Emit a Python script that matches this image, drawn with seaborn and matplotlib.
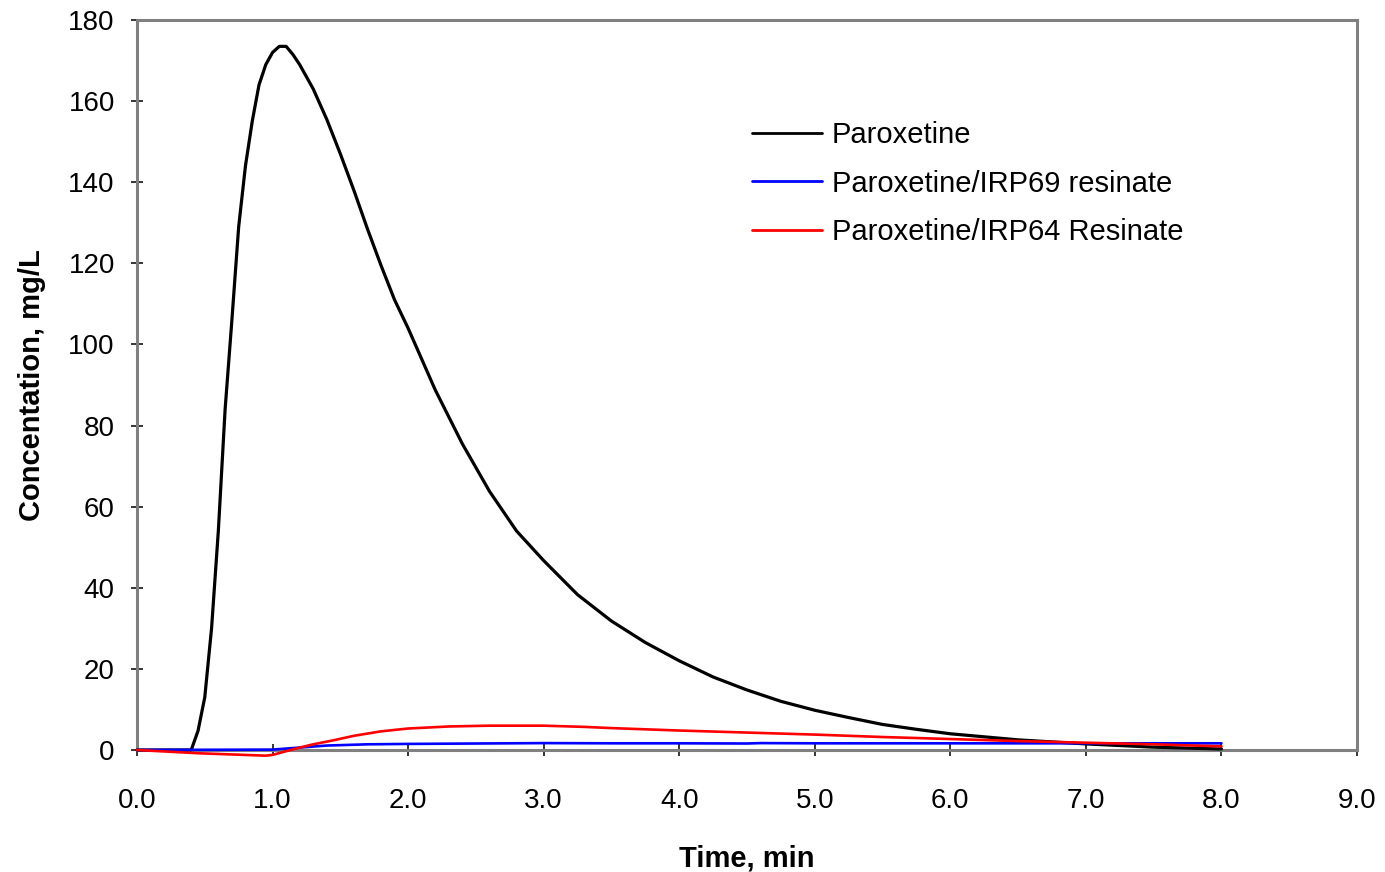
import matplotlib
matplotlib.use("Agg")
import matplotlib.pyplot as plt
import seaborn as sns
import pandas as pd

# --- data ---
t_parox = [0.0, 0.4, 0.45, 0.5, 0.55, 0.6, 0.65, 0.7, 0.75, 0.8, 0.85, 0.9, 0.95,
           1.0, 1.05, 1.1, 1.15, 1.2, 1.3, 1.4, 1.5, 1.6, 1.7, 1.8, 1.9, 2.0, 2.2,
           2.4, 2.6, 2.8, 3.0, 3.25, 3.5, 3.75, 4.0, 4.25, 4.5, 4.75, 5.0, 5.25,
           5.5, 5.75, 6.0, 6.5, 7.0, 7.5, 8.0]
c_parox = [0.0, 0.0, 4.7, 13.0, 30.0, 54.0, 84.0, 106.0, 129.0, 144.0, 155.0, 164.0, 169.0,
           172.0, 173.5, 173.5, 171.5, 169.0, 163.0, 155.5, 147.0, 138.0, 128.5, 119.5, 111.0,
           104.0, 88.8, 75.5, 63.8, 54.0, 46.7, 38.3, 31.8, 26.5, 22.0, 18.0, 14.8, 12.0,
           9.8, 8.0, 6.3, 5.1, 4.0, 2.5, 1.5, 0.7, 0.25]

t_irp69 = [0.0, 1.0, 1.2, 1.4, 1.7, 2.0, 2.5, 3.0, 3.5, 4.0, 4.5, 4.6, 5.0, 6.0, 7.0, 8.0]
c_irp69 = [0.0, 0.1, 0.6, 1.1, 1.4, 1.5, 1.6, 1.7, 1.65, 1.65, 1.6, 1.7, 1.65, 1.65, 1.65, 1.65]

t_irp64 = [0.0, 0.45, 0.95, 1.0, 1.1, 1.2, 1.3, 1.45, 1.6, 1.8, 2.0, 2.3, 2.6, 3.0,
           3.3, 3.5, 4.0, 4.5, 5.0, 5.5, 6.0, 6.5, 7.0, 7.5, 8.0]
c_irp64 = [0.0, -0.8, -1.4, -1.2, -0.3, 0.6, 1.4, 2.4, 3.5, 4.6, 5.3, 5.8, 6.0, 6.0,
           5.7, 5.4, 4.8, 4.3, 3.8, 3.2, 2.7, 2.2, 1.8, 1.4, 0.9]

series_names = ["Paroxetine", "Paroxetine/IRP69 resinate", "Paroxetine/IRP64 Resinate"]
series_colors = ["#000000", "#0000FF", "#FF0000"]

x_ticks = [0, 1, 2, 3, 4, 5, 6, 7, 8, 9]
y_ticks = [0, 20, 40, 60, 80, 100, 120, 140, 160, 180]

sns.set_style("white")
plt.rcParams["font.family"] = ["Liberation Sans", "DejaVu Sans"]
plt.rcParams["text.color"] = "black"

fig = plt.figure(figsize=(13.85, 8.72), dpi=100)
ax = fig.add_axes([137 / 1385, 1 - 750 / 872, 1220 / 1385, 730 / 872])

data = [(t_parox, c_parox), (t_irp69, c_irp69), (t_irp64, c_irp64)]
widths = [2.3, 1.9, 1.9]
for (t, c), name, col, lw in zip(data, series_names, series_colors, widths):
    df = pd.DataFrame({"t": t, "c": c})
    sns.lineplot(data=df, x="t", y="c", ax=ax, color=col, linewidth=lw, label=name,
                 estimator=None, sort=False, clip_on=False, zorder=3)

ax.set_xlim(0, 9)
ax.set_ylim(0, 180)
ax.set_xticks(x_ticks)
ax.set_xticklabels([f"{v:.1f}" for v in x_ticks])
ax.set_yticks(y_ticks)
ax.set_yticklabels([str(v) for v in y_ticks])

for s in ax.spines.values():
    s.set_color("#808080")
    s.set_linewidth(2.2)
    s.set_visible(True)
    s.set_zorder(2)

ax.tick_params(axis="x", bottom=True, direction="inout", length=9, width=1.1,
               color="black", labelcolor="black", labelsize=20, pad=23)
ax.tick_params(axis="y", left=True, direction="inout", length=8, width=1.1,
               color="black", labelcolor="black", labelsize=20, pad=12)

ax.set_xlabel("Time, min", fontsize=21, fontweight="bold", labelpad=22, color="black")
ax.set_ylabel("Concentation, mg/L", fontsize=21, fontweight="bold", labelpad=16, color="black")

leg = ax.legend(loc="upper left", bbox_to_anchor=((752 - 137) / 1220, (750 - 121) / 730),
                frameon=False, fontsize=21, handlelength=2.4, handletextpad=0.34,
                labelspacing=0.71, borderpad=0, borderaxespad=0)
for h in leg.get_lines():
    h.set_linewidth(2.0)
for txt in leg.get_texts():
    txt.set_color("black")

fig.savefig("out.png", dpi=100)
